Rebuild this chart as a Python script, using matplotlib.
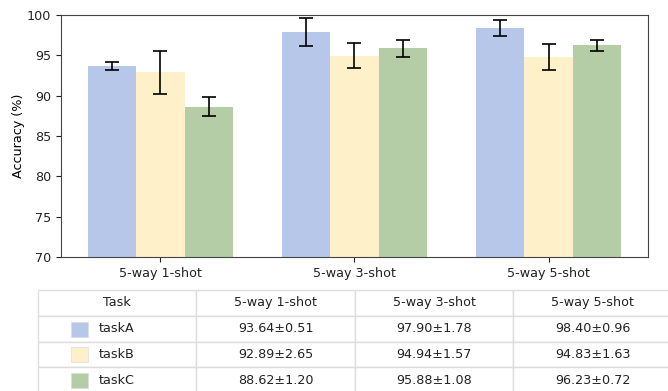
import matplotlib.pyplot as plt
import numpy as np
from matplotlib.patches import Rectangle

settings = ['5-way 1-shot', '5-way 3-shot', '5-way 5-shot']
tasks = ['taskA', 'taskB', 'taskC']
means = {
    'taskA': [93.64, 97.90, 98.40],
    'taskB': [92.89, 94.94, 94.83],
    'taskC': [88.62, 95.88, 96.23],
}
stds = {
    'taskA': [0.51, 1.78, 0.96],
    'taskB': [2.65, 1.57, 1.63],
    'taskC': [1.20, 1.08, 0.72],
}
colors = ['#b6c7e9', '#fef0c9', '#b5cda7']

plt.rcParams['font.size'] = 9.2

fig = plt.figure(figsize=(6.68, 3.91), dpi=100)
ax = fig.add_axes([0.0913, 0.3427, 0.8787, 0.6189])

x = np.arange(len(settings))
width = 0.25
for i, t in enumerate(tasks):
    ax.bar(x + (i - 1) * width, means[t], width, color=colors[i],
           yerr=stds[t], capsize=5, error_kw={'elinewidth': 1.2, 'capthick': 1.2, 'ecolor': 'black'})

ax.set_ylim(70, 100)
ax.set_xlim(-0.5125, 2.5125)
ax.set_xticks(x)
ax.set_xticklabels(settings)
ax.set_ylabel('Accuracy (%)', labelpad=1.5)
for s in ax.spines.values():
    s.set_color('#444444')
ax.tick_params(colors='#222222', labelsize=9.2)

# tableau des résultats sous le graphique
tab_ax = fig.add_axes([0, 0, 1, 1])
tab_ax.axis('off')
cells = [['Task'] + settings]
for t in tasks:
    cells.append([t] + ['%.2f±%.2f' % (m, s) for m, s in zip(means[t], stds[t])])
tbl = tab_ax.table(cellText=cells, cellLoc='center', bbox=[0.0569, -0.005, 0.949, 0.263])
tbl.auto_set_font_size(False)
for (r, c), cell in tbl.get_celld().items():
    cell.set_edgecolor('#dddddd')
    cell.set_linewidth(1.0)
    cell.get_text().set_fontsize(9.2)
    cell.get_text().set_color('#222222')
    if r > 0 and c == 0:
        cell.get_text().set_ha('left')
        cell._loc = 'left'
        cell.PAD = 0.386

# carrés de couleur devant chaque tâche
row_h = 0.263 / 4
for i in range(3):
    yc = -0.005 + 0.263 - row_h * (i + 1.5)
    tab_ax.add_patch(Rectangle((71 / 668, yc - 8 / 391), 17 / 668, 15 / 391,
                               facecolor=colors[i], edgecolor='#dddddd', lw=0.5,
                               transform=tab_ax.transAxes))

fig.savefig('out.png', dpi=100)
